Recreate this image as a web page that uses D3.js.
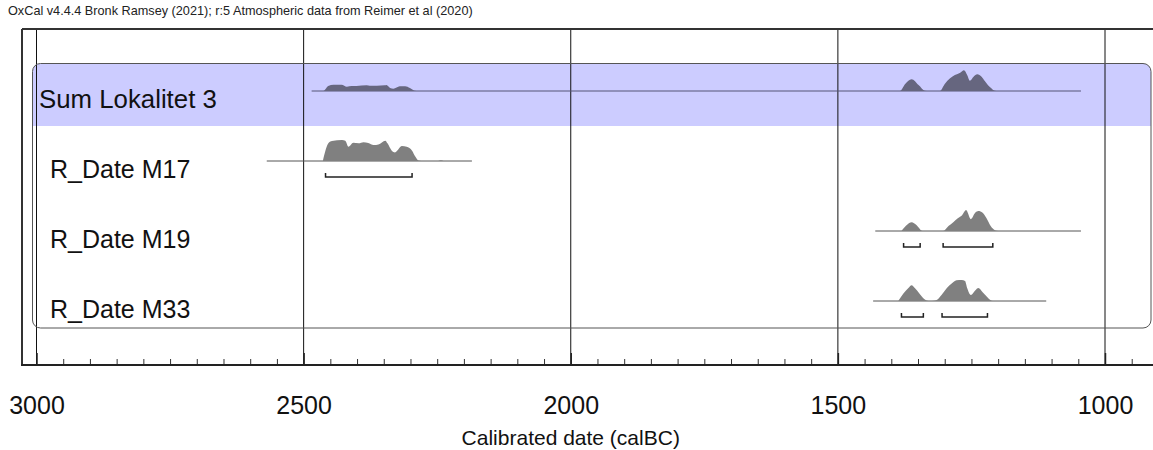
<!DOCTYPE html>
<html lang="en">
<head>
<meta charset="utf-8">
<script src="https://d3js.org/d3.v7.min.js"></script>
<style>
  body { margin: 0; background: #fff; }
  svg { display: block; font-family: "Liberation Sans", Arial, sans-serif; }
</style>
</head>
<body>
<svg id="chart" width="1153" height="450"></svg>
<script>
// ---- data (calBC years, relative probability) ----
const rowNames = ["Sum Lokalitet 3", "R_Date M17", "R_Date M19", "R_Date M33"];
const majorTicks = [3000, 2500, 2000, 1500, 1000];
const headerText = "OxCal v4.4.4 Bronk Ramsey (2021); r:5 Atmospheric data from Reimer et al (2020)";
const axisTitle = "Calibrated date (calBC)";

const sumRange = [2485, 1045];
const sumDens = [[2485,0],[2463,0],[2454,5],[2444,6.3],[2429,6.3],[2419,4.3],[2410,5],[2401,5],
  [2382,5.7],[2376,5.3],[2363,5.3],[2348,5.7],[2345,6],[2338,3],[2332,2.3],[2320,4.7],[2310,4.7],
  [2301,3],[2292,0.3],[2285,0],[1384,0],[1374,7],[1362,11.7],[1349,6],[1337,0.3],[1330,0],
  [1309,0],[1300,7],[1290,12.7],[1281,16],[1271,18.3],[1264,20.7],[1258,16],[1253,10.3],
  [1246,14.3],[1239,16.7],[1231,14.3],[1225,10],[1215,3.7],[1206,0.3],[1200,0]];

const m17Range = [2569, 2185];
const m17Dens = [[2464,0],[2453,0.87],[2447,0.95],[2428,1],[2422,0.97],[2416,0.68],[2407,0.87],
  [2397,0.84],[2388,0.89],[2379,0.86],[2369,0.76],[2360,0.79],[2347,0.97],[2343,0.84],[2335,0.49],
  [2329,0.41],[2316,0.71],[2307,0.68],[2297,0.49],[2291,0.21],[2285,0.02],[2280,0],[2248,0],
  [2243,0.03],[2238,0]];
const m17Brackets = [[2459, 2297]];

const m19Range = [1430, 1045];
const m19Dens = [[1381,0],[1371,5.7],[1362,8.3],[1353,5.7],[1343,0.3],[1340,0],[1303,0],[1293,4.7],
  [1284,8.3],[1275,12.3],[1268,14.7],[1260,20],[1251,11.3],[1243,17.3],[1237,19],[1229,17.3],
  [1222,12.3],[1214,4.7],[1206,0.7],[1200,0]];
const m19Brackets = [[1377, 1346], [1303, 1210]];

const m33Range = [1434, 1110];
const m33Dens = [[1387,0],[1377,7.3],[1368,12.3],[1362,15],[1356,12.3],[1346,6.3],[1335,0.7],[1330,0],
  [1324,0],[1316,0.7],[1306,5.7],[1296,12.3],[1287,16.7],[1278,19.7],[1268,20],[1262,19],[1258,12.3],
  [1251,5.7],[1243,10],[1237,12.3],[1229,8.3],[1221,4],[1214,0.7],[1210,0]];
const m33Brackets = [[1381, 1340], [1305, 1220]];

const rows = [
  {name: rowNames[0], range: sumRange, dens: sumDens, brackets: [], sum: true},
  {name: rowNames[1], range: m17Range, dens: m17Dens, brackets: m17Brackets},
  {name: rowNames[2], range: m19Range, dens: m19Dens, brackets: m19Brackets},
  {name: rowNames[3], range: m33Range, dens: m33Dens, brackets: m33Brackets}
];

// ---- layout ----
const svg = d3.select("#chart");
const frameLeft = 22, frameTop = 29, axisY = 365, rightEdge = 1153;
const x = d3.scaleLinear().domain([3000, 1000]).range([36.5, 1105]);
const rowY = d3.scalePoint().domain(rowNames).range([91, 301]);
const peakH = 21;

// header
svg.append("text").attr("x", 8).attr("y", 15)
  .attr("font-size", 12.7).attr("fill", "#222").text(headerText);

// rounded box + blue band for sum
const box = {x: 32.5, y: 63.5, w: 1151 - 32.5, h: 328 - 63.5};
svg.append("clipPath").attr("id", "boxclip").append("rect")
  .attr("x", box.x).attr("y", box.y).attr("width", box.w).attr("height", box.h).attr("rx", 8);
svg.append("rect").attr("clip-path", "url(#boxclip)")
  .attr("x", box.x).attr("y", box.y).attr("width", box.w).attr("height", 126 - box.y)
  .attr("fill", "#ccccff");

// grid lines at the 500-year marks
svg.append("g").selectAll("line").data(majorTicks).join("line")
  .attr("x1", d => x(d)).attr("x2", d => x(d))
  .attr("y1", frameTop).attr("y2", axisY)
  .attr("stroke", "#111").attr("stroke-width", 1);

svg.append("rect")
  .attr("x", box.x).attr("y", box.y).attr("width", box.w).attr("height", box.h).attr("rx", 8)
  .attr("fill", "none").attr("stroke", "#555").attr("stroke-width", 1);

// frame (top and left)
svg.append("line").attr("x1", frameLeft).attr("x2", rightEdge).attr("y1", frameTop).attr("y2", frameTop)
  .attr("stroke", "#333").attr("stroke-width", 2);
svg.append("line").attr("x1", frameLeft).attr("x2", frameLeft).attr("y1", frameTop).attr("y2", axisY)
  .attr("stroke", "#333").attr("stroke-width", 2);

// rows
rows.forEach(r => {
  const base = rowY(r.name);
  const maxD = d3.max(r.dens, d => d[1]);
  const h = d3.scaleLinear().domain([0, maxD]).range([0, r.sum ? peakH * maxD / 21 : peakH]);
  const g = svg.append("g");

  g.append("line")
    .attr("x1", x(r.range[0])).attr("x2", x(r.range[1]))
    .attr("y1", base).attr("y2", base)
    .attr("stroke", r.sum ? "#555577" : "#555").attr("stroke-width", 1);

  const area = d3.area()
    .x(d => x(d[0])).y0(base).y1(d => base - h(d[1]))
    .curve(d3.curveMonotoneX);
  g.append("path").datum(r.dens).attr("d", area)
    .attr("fill", r.sum ? "#66667f" : "#808080");

  r.brackets.forEach(b => {
    const by = base + 16;
    g.append("path")
      .attr("d", `M${x(b[0])},${by - 4}V${by}H${x(b[1])}V${by - 4}`)
      .attr("fill", "none").attr("stroke", "#222").attr("stroke-width", 1.5);
  });

  g.append("text")
    .attr("x", r.sum ? 39 : 50).attr("y", base + 17)
    .attr("font-size", r.sum ? 25.8 : 25).attr("fill", "#111").text(r.name);
});

// axis
const minorTicks = d3.range(3000, 900, -50).filter(v => v % 500 !== 0);
svg.append("g").attr("transform", `translate(0,${axisY})`)
  .call(d3.axisTop(x).tickValues(minorTicks).tickSize(6).tickFormat(""))
  .call(g => g.select(".domain").remove())
  .selectAll("line").attr("stroke", "#333");

const ax = svg.append("g").attr("transform", `translate(0,${axisY})`)
  .call(d3.axisBottom(x).tickValues(majorTicks).tickSizeInner(-12).tickSizeOuter(0)
    .tickPadding(31).tickFormat(d3.format("d")));
ax.select(".domain").remove();
ax.selectAll("line").attr("stroke", "#222").attr("stroke-width", 1.5);
ax.selectAll("text").attr("font-size", 25).attr("fill", "#111")
  .attr("font-family", "'Liberation Sans', Arial, sans-serif");

svg.append("line").attr("x1", frameLeft - 1).attr("x2", rightEdge).attr("y1", axisY).attr("y2", axisY)
  .attr("stroke", "#222").attr("stroke-width", 2);

svg.append("text").attr("x", x(2000)).attr("y", 445).attr("text-anchor", "middle")
  .attr("font-size", 21).attr("fill", "#111").text(axisTitle);
</script>
</body>
</html>
